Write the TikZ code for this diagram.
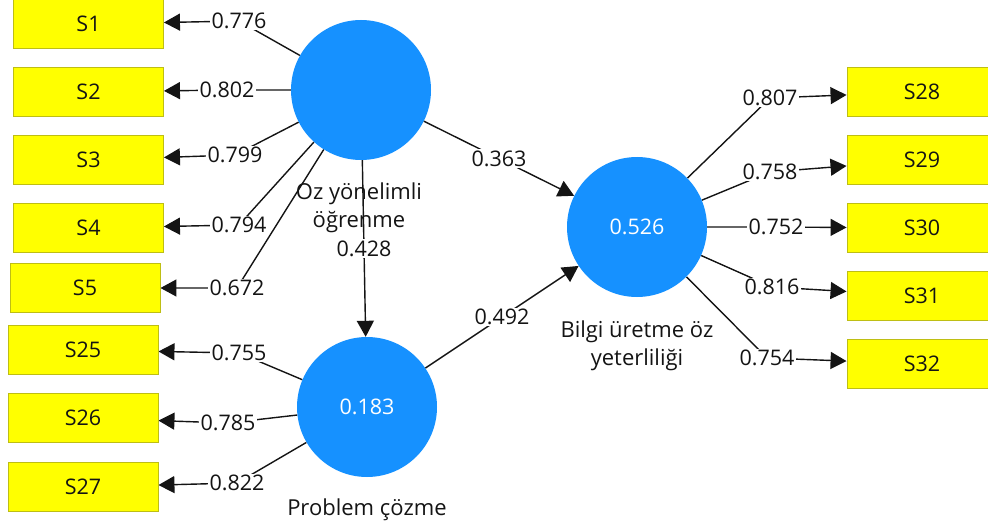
\documentclass[tikz,border=0pt]{standalone}
\usepackage{fontspec}
\setmainfont{Open Sans}
\usetikzlibrary{arrows.meta,backgrounds}

\definecolor{indfill}{RGB}{255,255,0}
\definecolor{inddraw}{RGB}{190,190,20}
\definecolor{latfill}{RGB}{22,145,255}
\definecolor{ink}{RGB}{20,20,20}

\tikzset{
  indicator/.style={rectangle, fill=indfill, draw=inddraw, line width=0.9pt,
    minimum width=150pt, minimum height=49pt, inner sep=0pt,
    font=\fontsize{21.5}{24}\selectfont, text=ink},
  latent/.style={circle, fill=latfill, minimum size=140pt, inner sep=0pt,
    font=\fontsize{21.5}{24}\selectfont, text=white},
  caption/.style={align=center, font=\fontsize{22}{28.5}\selectfont, text=ink},
  weight/.style={fill=white, inner sep=1.5pt, font=\fontsize{21.5}{24}\selectfont, text=ink},
  link/.style={draw=ink, line width=1.4pt},
  tip/.style={-{Triangle[length=16pt,width=17pt]}}
}

\begin{document}
\begin{tikzpicture}[x=1pt,y=-1pt]
  \useasboundingbox (0,0) rectangle (988,532);

  % latent constructs
  \node[latent] (oz)  at (361,90)  {};
  \node[latent] (pc)  at (367,407) {0.183};
  \node[latent] (bu)  at (637,227) {0.526};

  \node[caption] (ozcap) at (359,208) {Oz yönelimli\\öğrenme};
  \node[caption] (pccap) at (367,510) {Problem çözme};
  \node[caption] (bucap) at (637,346) {Bilgi üretme öz\\yeterliliği};

  % indicators of the first construct
  \node[indicator] (s1)  at (88.5,24)  {S1};
  \node[indicator] (s2)  at (88.5,92)  {S2};
  \node[indicator] (s3)  at (88.5,160) {S3};
  \node[indicator] (s4)  at (88.5,228) {S4};
  \node[indicator] (s5)  at (85,288)   {S5};
  % indicators of problem solving
  \node[indicator] (s25) at (83,350) {S25};
  \node[indicator] (s26) at (83,418) {S26};
  \node[indicator] (s27) at (83,487) {S27};
  % indicators of knowledge-generation self-efficacy
  \node[indicator] (s28) at (922,92)  {S28};
  \node[indicator] (s29) at (922,160) {S29};
  \node[indicator] (s30) at (922,228) {S30};
  \node[indicator] (s31) at (922,296) {S31};
  \node[indicator] (s32) at (922,364) {S32};

  % outer loadings
  \node[weight] (w1)  at (239,21)  {0.776};
  \node[weight] (w2)  at (227,90)  {0.802};
  \node[weight] (w3)  at (235,155) {0.799};
  \node[weight] (w4)  at (239,225) {0.794};
  \node[weight] (w5)  at (237,288) {0.672};
  \node[weight] (w25) at (239,353) {0.755};
  \node[weight] (w26) at (228,423) {0.785};
  \node[weight] (w27) at (237,483) {0.822};
  \node[weight] (w28) at (770,98)  {0.807};
  \node[weight] (w29) at (770,172) {0.758};
  \node[weight] (w30) at (776,227) {0.752};
  \node[weight] (w31) at (772,287) {0.816};
  \node[weight] (w32) at (767,358) {0.754};

  \begin{scope}[on background layer]
    \draw[link,tip] (oz) -- (w1.center) -- (s1);
    \draw[link,tip] (oz) -- (w2.center) -- (s2);
    \draw[link,tip] (oz) -- (w3.center) -- (s3);
    \draw[link,tip] (oz) -- (w4.center) -- (s4);
    \draw[link,tip] (oz) -- (w5.center) -- (s5);
    \draw[link,tip] (pc) -- (w25.center) -- (s25);
    \draw[link,tip] (pc) -- (w26.center) -- (s26);
    \draw[link,tip] (pc) -- (w27.center) -- (s27);
    \draw[link,tip] (bu) -- (w28.center) -- (s28);
    \draw[link,tip] (bu) -- (w29.center) -- (s29);
    \draw[link,tip] (bu) -- (w30.center) -- (s30);
    \draw[link,tip] (bu) -- (w31.center) -- (s31);
    \draw[link,tip] (bu) -- (w32.center) -- (s32);
  \end{scope}

  % structural paths
  \draw[link,tip] (oz) -- node[weight] (p1) {0.428} (pc);
  \draw[link,tip] (oz) -- node[weight] (p2) {0.363} (bu);
  \draw[link,tip] (pc) -- node[weight] (p3) {0.492} (bu);
\end{tikzpicture}
\end{document}
